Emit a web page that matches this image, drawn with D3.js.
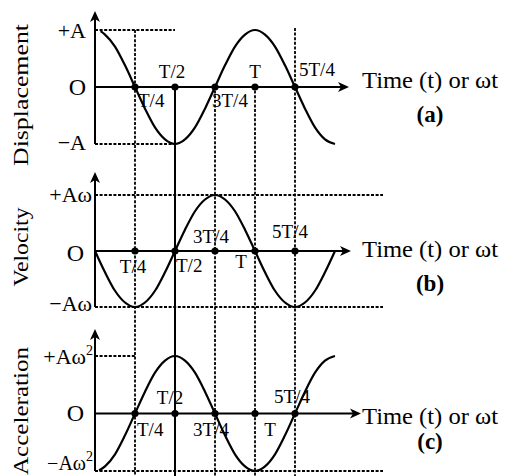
<!DOCTYPE html>
<html><head><meta charset="utf-8">
<script src="https://cdn.jsdelivr.net/npm/d3@7"></script>
<style>html,body{margin:0;padding:0;background:#fff}svg{display:block}</style>
</head><body><svg id="c" width="505" height="476" font-family="'Liberation Serif', 'Times New Roman', Times, serif"></svg>
<script>
// ---- data ----
const panelNames = ["Displacement", "Velocity", "Acceleration"];
const panelTags = ["(a)", "(b)", "(c)"];
const axisTitle = "Time (t) or ωt";
const valueLabels = [["+A", "O", "−A"], ["+Aω", "O", "−Aω"], ["+Aω", "O", "−Aω"]];
const quarterTimes = [0.25, 0.5, 0.75, 1, 1.25];
const quarterLabels = ["T/4", "T/2", "3T/4", "T", "5T/4"];
const sampleTimes = [0, 0.0625, 0.125, 0.1875, 0.25, 0.3125, 0.375, 0.4375, 0.5, 0.5625, 0.625, 0.6875, 0.75, 0.8125, 0.875, 0.9375, 1, 1.0625, 1.125, 1.1875, 1.25, 1.3125, 1.375, 1.4375, 1.5];
const displacement = [0.98, 0.92, 0.71, 0.38, 0, -0.38, -0.71, -0.92, -1, -0.92, -0.71, -0.38, 0, 0.38, 0.71, 0.92, 1, 0.92, 0.71, 0.38, 0, -0.38, -0.71, -0.92, -1];
const velocity = [0, -0.38, -0.71, -0.92, -1, -0.92, -0.71, -0.38, 0, 0.38, 0.71, 0.92, 1, 0.92, 0.71, 0.38, 0, -0.38, -0.71, -0.92, -1, -0.92, -0.71, -0.38, 0];
const acceleration = [-0.99, -0.92, -0.71, -0.38, 0, 0.38, 0.71, 0.92, 1, 0.92, 0.71, 0.38, 0, -0.38, -0.71, -0.92, -1, -0.92, -0.71, -0.38, 0, 0.38, 0.71, 0.92, 1];
const series = [displacement, velocity, acceleration];
const firstTime = [0.035, 0, 0.025];

// ---- layout ----
const svg = d3.select("#c");
svg.append("rect").attr("width", 505).attr("height", 476).attr("fill", "#fff");
const x = d3.scaleLinear().domain([0, 1.25]).range([95, 295]);
const layout = [
  {top: 30, bot: 144, arrowTop: 11, axisEnd: 349, hiEnd: 0.5, loEnd: 0.5, titleY: 88, tagY: 122,
   labels: [[3, 20, "start"], [-3, -9, "middle"], [-3, 20, "start"], [0, -9, "middle"], [4, -11, "start"]],
   yl: [[86, 38], [86, 95], [86, 150]], nameY: 95, nameLen: 142},
  {top: 195, bot: 307, arrowTop: 172, axisEnd: 351, hiEnd: 1.8, loEnd: 1.8, titleY: 257, tagY: 291,
   labels: [[-2, 22, "middle"], [1, 21, "start"], [-4, -8, "middle"], [-14, 17, "middle"], [-5, -13, "middle"]],
   yl: [[92, 202], [84, 261], [92, 311]], nameY: 247, nameLen: 79},
  {top: 356, bot: 471, arrowTop: 329, axisEnd: 361, hiEnd: 0.25, loEnd: 1.8, titleY: 424, tagY: 449,
   labels: [[2, 22, "start"], [-5, -10, "middle"], [-4, 22, "middle"], [15, 22, "middle"], [-3, -11, "middle"]],
   yl: [[93, 364], [84, 421], [93, 470]], nameY: 411, nameLen: 128}
];

const g = svg.append("g");
const dash = "3,1.6";

const vGuides = [[0.25, 30, true], [0.5, 86, false], [0.75, 86, true], [1, 86, true], [1.25, 28, true]];
vGuides.forEach(([t, y1, dashed]) => {
  g.append("line").attr("x1", x(t)).attr("x2", x(t)).attr("y1", y1).attr("y2", 476)
    .attr("stroke", "#000").attr("stroke-width", dashed ? 1.8 : 2)
    .attr("stroke-dasharray", dashed ? dash : null);
});

layout.forEach((L, i) => {
  const y = d3.scaleLinear().domain([-1, 1]).range([L.bot, L.top]);
  const y0 = y(0);
  g.append("line").attr("x1", x(0)).attr("x2", x(L.hiEnd)).attr("y1", y(1)).attr("y2", y(1))
    .attr("stroke", "#000").attr("stroke-width", 1.8).attr("stroke-dasharray", dash);
  g.append("line").attr("x1", x(0)).attr("x2", x(L.loEnd)).attr("y1", y(-1)).attr("y2", y(-1))
    .attr("stroke", "#000").attr("stroke-width", 1.8).attr("stroke-dasharray", dash);
  g.append("line").attr("x1", x(0)).attr("x2", x(0)).attr("y1", y(-1)).attr("y2", L.arrowTop + 4)
    .attr("stroke", "#000").attr("stroke-width", 2);
  g.append("line").attr("x1", x(0)).attr("x2", L.axisEnd - 4).attr("y1", y0).attr("y2", y0)
    .attr("stroke", "#000").attr("stroke-width", 2);
  const ax = x(0), at = L.arrowTop;
  g.append("path").attr("d", `M${ax},${at} L${ax - 5},${at + 11} L${ax},${at + 8} L${ax + 5},${at + 11} Z`).attr("fill", "#000");
  const ex = L.axisEnd;
  g.append("path").attr("d", `M${ex},${y0} L${ex - 11},${y0 - 5} L${ex - 8},${y0} L${ex - 11},${y0 + 5} Z`).attr("fill", "#000");
  const pts = sampleTimes.map((t, k) => [k === 0 ? firstTime[i] : t, series[i][k]]);
  g.append("path").datum(pts)
    .attr("d", d3.line().x(d => x(d[0])).y(d => y(d[1])).curve(d3.curveMonotoneX))
    .attr("fill", "none").attr("stroke", "#000").attr("stroke-width", 2.2);
  quarterTimes.forEach((t, k) => {
    g.append("circle").attr("cx", x(t)).attr("cy", y0).attr("r", 3.6).attr("fill", "#000");
    const [dx, dy, anc] = L.labels[k];
    g.append("text").attr("x", x(t) + dx).attr("y", y0 + dy).attr("text-anchor", anc)
      .attr("font-size", 19).text(quarterLabels[k]);
  });
  valueLabels[i].forEach((lab, k) => {
    const fs = (i === 2 && k === 2) ? 20 : (k === 1 ? 24 : 22);
    const t = g.append("text").attr("x", L.yl[k][0]).attr("y", L.yl[k][1]).attr("text-anchor", "end")
      .attr("font-size", fs);
    t.text(lab);
    if (i === 2 && k !== 1) {
      t.append("tspan").attr("dy", -9).attr("font-size", 14).text("2");
    }
  });
  g.append("text").attr("x", 362).attr("y", L.titleY).attr("font-size", 24)
    .attr("textLength", 136).attr("lengthAdjust", "spacingAndGlyphs").text(axisTitle);
  g.append("text").attr("x", 430).attr("y", L.tagY).attr("text-anchor", "middle")
    .attr("font-size", 23).attr("font-weight", "bold").text(panelTags[i]);
  g.append("text").attr("transform", `translate(28,${L.nameY}) rotate(-90)`)
    .attr("text-anchor", "middle").attr("font-size", 22)
    .attr("textLength", L.nameLen).attr("lengthAdjust", "spacingAndGlyphs").text(panelNames[i]);
});
</script></body></html>
